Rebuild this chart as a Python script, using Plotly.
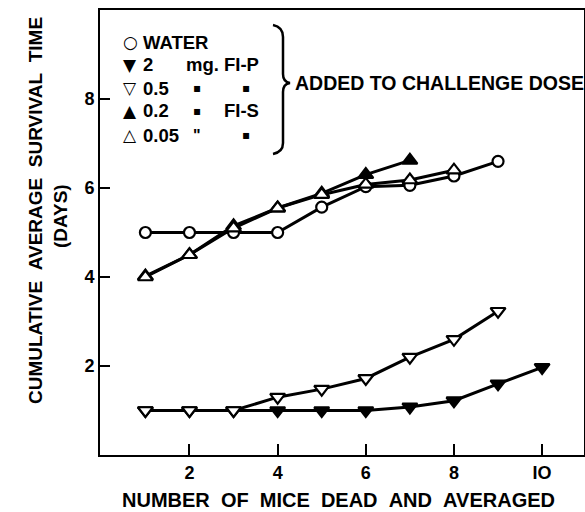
import plotly.graph_objects as go

# ---- data ----
x_water = [1, 2, 3, 4, 5, 6, 7, 8, 9]
y_water = [5.0, 5.0, 5.0, 5.0, 5.57, 6.03, 6.06, 6.27, 6.6]

x_fip2 = [1, 2, 3, 4, 5, 6, 7, 8, 9, 10]
y_fip2 = [1.0, 1.0, 1.0, 1.0, 1.0, 1.0, 1.08, 1.22, 1.6, 1.97]

x_fip05 = [1, 2, 3, 4, 5, 6, 7, 8, 9]
y_fip05 = [1.0, 1.0, 1.0, 1.3, 1.48, 1.72, 2.2, 2.6, 3.23]

x_fis02 = [1, 2, 3, 4, 5, 6, 7]
y_fis02 = [4.02, 4.5, 5.15, 5.55, 5.88, 6.3, 6.62]

x_fis005 = [1, 2, 3, 4, 5, 6, 7, 8]
y_fis005 = [4.0, 4.5, 5.1, 5.55, 5.85, 6.08, 6.18, 6.4]

x_ticks = [2, 4, 6, 8, 10]
x_ticktext = ["2", "4", "6", "8", "IO"]
y_ticks = [2, 4, 6, 8]

W, H = 585, 512
ML, MR, MT, MB = 100, 1, 10, 57
PW, PH = W - ML - MR, H - MT - MB


def px(xp):
    return (xp - ML) / PW


def py(yp):
    return (H - MB - yp) / PH


FONT = "Liberation Sans"
fig = go.Figure()

line = dict(color="black", width=3)


def add(x, y, symbol, filled, size=13):
    fig.add_trace(go.Scatter(
        x=x, y=y, mode="lines+markers", line=line,
        marker=dict(symbol=symbol, size=size,
                    color="black" if filled else "white",
                    line=dict(color="black", width=2.2)),
        showlegend=False, cliponaxis=False))


add(x_fip2, y_fip2, "triangle-down", True)
add(x_fip05, y_fip05, "triangle-down", False)
add(x_water, y_water, "circle", False, size=11)
add(x_fis02, y_fis02, "triangle-up", True)
add(x_fis005, y_fis005, "triangle-up", False)

ann = []


def txt(t, xp, yp, size=18, xanchor="left", family=FONT):
    ann.append(dict(text=t, x=px(xp), y=py(yp), xref="paper", yref="paper",
                    xanchor=xanchor, yanchor="middle", showarrow=False,
                    font=dict(family=family, size=size, color="black", weight="bold")))


# legend block
rows = [42, 65, 88, 111, 135]
syms = ["○", "▼", "▽", "▲", "△"]
nums = ["WATER", "2", "0.5", "0.2", "0.05"]
for r, s, n in zip(rows, syms, nums):
    txt(s, 130, r, size=17, xanchor="center", family="DejaVu Sans")
    txt(n, 141, r, size=18.5)
txt("mg.", 184, rows[1], size=18.5)
txt("FI-P", 222, rows[1], size=18.5)
txt("FI-S", 222, rows[3], size=18.5)
for r in (rows[2], rows[3]):
    txt("▪", 197, r, size=12, xanchor="center", family="DejaVu Sans")
txt("\"", 197, rows[4], size=16, xanchor="center")
for r in (rows[2], rows[4]):
    txt("▪", 246, r, size=12, xanchor="center", family="DejaVu Sans")

txt("ADDED TO CHALLENGE DOSE", 293, 83, size=19.5)

# axis titles
NB = "\u00a0"
xlab = (NB * 2).join("NUMBER OF MICE DEAD AND AVERAGED".split(" "))
ann.append(dict(text=xlab, x=px(338), y=py(500), xref="paper", yref="paper",
                xanchor="center", yanchor="middle", showarrow=False,
                font=dict(family=FONT, size=20, color="black", weight="bold")))
ylab = (NB * 2).join("CUMULATIVE AVERAGE SURVIVAL TIME".split(" "))
ann.append(dict(text=ylab, x=px(35), y=py(211), xref="paper", yref="paper",
                xanchor="center", yanchor="middle", showarrow=False, textangle=-90,
                font=dict(family=FONT, size=19, color="black", weight="bold")))
ann.append(dict(text="(DAYS)", x=px(60), y=py(216), xref="paper", yref="paper",
                xanchor="center", yanchor="middle", showarrow=False, textangle=-90,
                font=dict(family=FONT, size=19, color="black", weight="bold")))

# brace
pts = [(273, 25), (283, 27), (283, 37), (283, 74), (283, 82), (290, 83),
       (283, 84), (283, 92), (283, 143), (283, 152), (273, 154)]
P = [(px(a), py(b)) for a, b in pts]
path = (f"M {P[0][0]},{P[0][1]} Q {P[1][0]},{P[1][1]} {P[2][0]},{P[2][1]} "
        f"L {P[3][0]},{P[3][1]} Q {P[4][0]},{P[4][1]} {P[5][0]},{P[5][1]} "
        f"Q {P[6][0]},{P[6][1]} {P[7][0]},{P[7][1]} L {P[8][0]},{P[8][1]} "
        f"Q {P[9][0]},{P[9][1]} {P[10][0]},{P[10][1]}")

fig.update_layout(
    width=W, height=H,
    margin=dict(l=ML, r=MR, t=MT, b=MB, autoexpand=False),
    plot_bgcolor="white", paper_bgcolor="white",
    annotations=ann,
    shapes=[dict(type="path", path=path, xref="paper", yref="paper",
                 line=dict(color="black", width=2.5))],
    xaxis=dict(range=[-0.03, 10.95], tickvals=x_ticks, ticktext=x_ticktext,
               ticks="inside", ticklen=11, tickwidth=2, tickcolor="black",
               showline=True, linecolor="black", linewidth=2, mirror=True,
               showgrid=False, zeroline=False,
               tickfont=dict(family=FONT, size=18, color="black", weight="bold")),
    yaxis=dict(range=[0, 10], tickvals=y_ticks,
               ticks="inside", ticklen=10, tickwidth=2, tickcolor="black",
               showline=True, linecolor="black", linewidth=2, mirror=True,
               showgrid=False, zeroline=False,
               tickfont=dict(family=FONT, size=18, color="black", weight="bold")),
)

fig.write_html("out.html", config={"displayModeBar": False},
               post_script="document.body.style.margin='0';document.body.style.overflow='hidden';")
